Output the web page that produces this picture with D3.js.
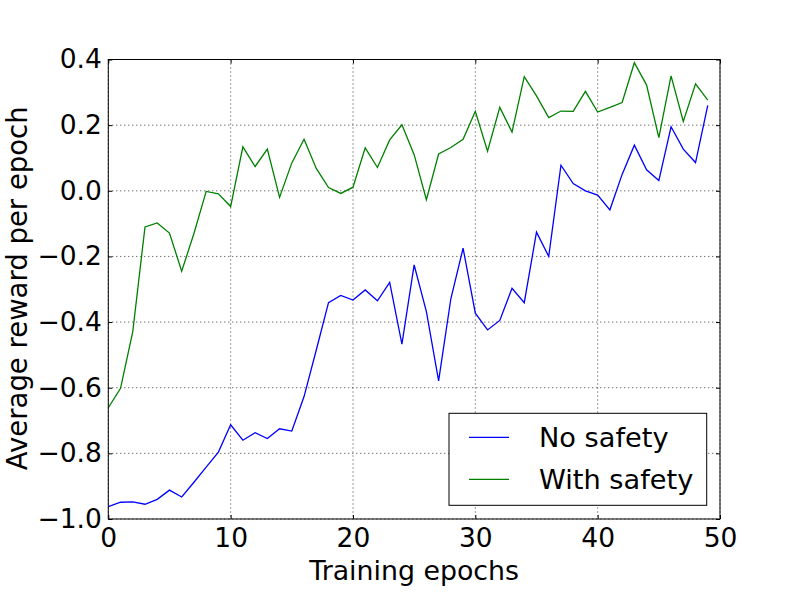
<!DOCTYPE html>
<html lang="en">

<head>
    <meta charset="UTF-8">
    <title>Average reward per epoch</title>
    <style>
        body { margin: 0; background: white; }
        text { font-family: "DejaVu Sans", sans-serif; fill: black; }
        .grid line { stroke: black; stroke-width: 0.8px; stroke-dasharray: 1,3; }
        .series { fill: none; stroke-width: 1.3px; }
    </style>
</head>

<body>
    <div id="my_dataviz"></div>

    <script src="https://d3js.org/d3.v7.min.js"></script>
    <script>
        // values, one per epoch
        var noSafety = [-0.962, -0.949, -0.948, -0.955, -0.940, -0.912, -0.933, -0.888, -0.842, -0.796,
            -0.713, -0.760, -0.737, -0.755, -0.725, -0.732, -0.627, -0.485, -0.341, -0.319,
            -0.333, -0.302, -0.335, -0.279, -0.467, -0.226, -0.368, -0.579, -0.329, -0.175,
            -0.373, -0.424, -0.395, -0.297, -0.341, -0.126, -0.200, 0.078, 0.022, 0.000,
            -0.013, -0.058, 0.050, 0.139, 0.064, 0.031, 0.195, 0.127, 0.086, 0.260];

        var withSafety = [-0.661, -0.602, -0.429, -0.110, -0.098, -0.129, -0.245, -0.130, -0.002, -0.009,
            -0.048, 0.134, 0.074, 0.127, -0.020, 0.085, 0.157, 0.068, 0.010, -0.008,
            0.011, 0.131, 0.071, 0.155, 0.201, 0.110, -0.027, 0.112, 0.132, 0.157,
            0.242, 0.121, 0.254, 0.179, 0.348, 0.289, 0.223, 0.243, 0.242, 0.303,
            0.240, 0.254, 0.269, 0.390, 0.322, 0.162, 0.350, 0.211, 0.326, 0.276];

        var seriesNames = ["No safety", "With safety"];
        var seriesColors = ["#0000ff", "#008000"];

        var xTicks = [0, 10, 20, 30, 40, 50];
        var yTicks = [-1.0, -0.8, -0.6, -0.4, -0.2, 0.0, 0.2, 0.4];

        // set the dimensions and margins of the graph
        var margin = { top: 59.5, right: 80, bottom: 78, left: 108.3 },
            width = 800 - margin.left - margin.right,
            height = 597 - margin.top - margin.bottom;
        var tickFont = 26.5;

        var svg = d3.select("#my_dataviz")
            .append("svg")
            .attr("width", 800)
            .attr("height", 597)
            .append("g")
            .attr("transform", "translate(" + margin.left + "," + margin.top + ")");

        var x = d3.scaleLinear().domain([0, 50]).range([0, width]);
        var y = d3.scaleLinear().domain([-1.0, 0.4]).range([height, 0]);

        // dotted grid
        var grid = svg.append("g").attr("class", "grid");
        grid.selectAll(".gx").data(xTicks).enter().append("line")
            .attr("x1", d => x(d)).attr("x2", d => x(d))
            .attr("y1", 0).attr("y2", height);
        grid.selectAll(".gy").data(yTicks).enter().append("line")
            .attr("y1", d => y(d)).attr("y2", d => y(d))
            .attr("x1", 0).attr("x2", width);

        // axes, ticks pointing inwards on all four sides
        function styleAxis(g) {
            g.select(".domain").remove();
            g.selectAll(".tick line").attr("stroke", "black").attr("stroke-width", 1);
            g.selectAll("text").style("font-size", tickFont + "px").attr("fill", "black");
        }

        svg.append("g")
            .attr("transform", "translate(0," + height + ")")
            .call(d3.axisBottom(x).tickValues(xTicks).tickSize(-4).tickPadding(9).tickFormat(d3.format("d")))
            .call(styleAxis);
        svg.append("g")
            .call(d3.axisTop(x).tickValues(xTicks).tickSize(-4).tickFormat(""))
            .call(styleAxis);
        svg.append("g")
            .call(d3.axisLeft(y).tickValues(yTicks).tickSize(-4).tickPadding(6.5).tickFormat(d3.format(".1f")))
            .call(styleAxis);
        svg.append("g")
            .attr("transform", "translate(" + width + ",0)")
            .call(d3.axisRight(y).tickValues(yTicks).tickSize(-4).tickFormat(""))
            .call(styleAxis);

        // lines
        var line = d3.line()
            .x((d, i) => x(i))
            .y(d => y(d));

        [noSafety, withSafety].forEach(function (vals, k) {
            svg.append("path")
                .datum(vals)
                .attr("class", "series")
                .attr("stroke", seriesColors[k])
                .attr("d", line);
        });

        // frame
        svg.append("rect")
            .attr("width", width).attr("height", height)
            .attr("fill", "none").attr("stroke", "black").attr("stroke-width", 1);

        // axis labels
        svg.append("text")
            .attr("x", x(25)).attr("y", height + 61)
            .attr("text-anchor", "middle")
            .style("font-size", "26.8px")
            .text("Training epochs");

        svg.append("text")
            .attr("transform", "translate(" + (26.5 - margin.left) + "," + (height / 2 - 1) + ") rotate(-90)")
            .attr("text-anchor", "middle")
            .style("font-size", "27.5px")
            .text("Average reward per epoch");

        // legend
        var legend = svg.append("g")
            .attr("transform", "translate(" + (449 - margin.left) + "," + (413.3 - margin.top) + ")");
        legend.append("rect")
            .attr("width", 257.7).attr("height", 92)
            .attr("fill", "white").attr("stroke", "black").attr("stroke-width", 1);
        seriesNames.forEach(function (name, k) {
            var ly = 24 + k * 42;
            legend.append("line")
                .attr("x1", 20).attr("x2", 60)
                .attr("y1", ly).attr("y2", ly)
                .attr("stroke", seriesColors[k]).attr("stroke-width", 1.3);
            legend.append("text")
                .attr("x", 90).attr("y", ly + 9.5)
                .style("font-size", "27.2px")
                .text(name);
        });
    </script>
</body>

</html>
